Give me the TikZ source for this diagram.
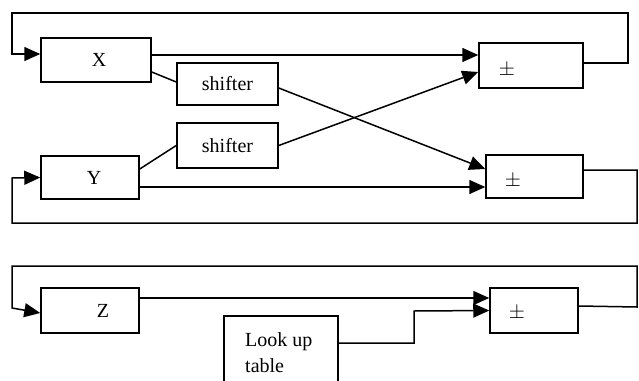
\documentclass[tikz,border=0pt]{standalone}
\usepackage{fontspec}
\setmainfont{Liberation Serif}
\usetikzlibrary{arrows.meta}
\begin{document}
\begin{tikzpicture}[x=1pt,y=-1pt,
  every node/.style={font=\fontsize{20}{26}\selectfont},
  blk/.style={draw, line width=1.5pt, inner sep=0pt},
  wire/.style={line width=1.5pt},
  arr/.style={wire, -{Triangle[length=16pt,width=14pt]}},
  txt/.style={inner sep=0pt}]
\clip (0,0) rectangle (639,380);
% blocks
\node[blk, minimum width=110pt, minimum height=44pt] (X) at (96,60) {};
\node[blk, minimum width=101pt, minimum height=42pt] (S1) at (227.5,84) {};
\node[blk, minimum width=101pt, minimum height=45pt] (S2) at (227.5,145.5) {};
\node[blk, minimum width=98pt, minimum height=43pt] (Y) at (90,177.5) {};
\node[blk, minimum width=104pt, minimum height=45pt] (P1) at (531,65.5) {};
\node[blk, minimum width=97pt, minimum height=43pt] (P2) at (534.5,176.5) {};
\node[blk, minimum width=98pt, minimum height=45pt] (Z) at (90,310.5) {};
\node[blk, minimum width=88pt, minimum height=45pt] (P3) at (534,310.5) {};
\node[blk, minimum width=114pt, minimum height=90pt] (LUT) at (281,361) {};
% labels
\node[txt] (tX) at (99,60) {X};
\node[txt] (tY) at (94,178) {Y};
\node[txt] (tZ) at (103,311) {Z};
\node[txt] (tS1) at (S1.center) {shifter};
\node[txt] (tS2) at (S2.center) {shifter};
\node[txt] (tP1) at (507,70) {$\pm$};
\node[txt] (tP2) at (513,181) {$\pm$};
\node[txt] (tP3) at (517,313) {$\pm$};
\node[txt, anchor=base west] (tL1) at (245,346) {Look up};
\node[txt, anchor=base west] (tL2) at (245,372) {table};
% anchor points for the connectors
\coordinate (xo) at ([yshift=5pt]X.east);
\coordinate (xs) at ([yshift=-12pt]X.east);
\coordinate (s1i) at ([yshift=2pt]S1.west);
\coordinate (s1o) at ([yshift=-4pt]S1.east);
\coordinate (p2a) at ([yshift=7.5pt]P2.west);
\coordinate (ys) at ([yshift=8.5pt]Y.east);
\coordinate (yo) at ([yshift=-9.5pt]Y.east);
\coordinate (p1b) at ([yshift=-6.5pt]P1.west);
\coordinate (p1o) at ([yshift=2.5pt]P1.east);
\coordinate (p2o) at ([yshift=6.5pt]P2.east);
\coordinate (p3o) at ([yshift=4.5pt]P3.east);
\coordinate (zo) at ([yshift=12.5pt]Z.east);
\coordinate (xi) at ([yshift=6pt]X.west);
\coordinate (zi) at ([yshift=-2.5pt]Z.west);
\coordinate (lo) at ([yshift=18pt]LUT.east);
% X path
\draw[arr] (xo) -- (xo -| P1.west);
\draw[wire] (xs) -- (s1i);
\draw[arr] (s1o) -- (p2a);
% Y path
\draw[wire] (ys) -- (S2.west);
\draw[arr] (S2.east) -- (p1b);
\draw[arr] (yo) -- (yo -| P2.west);
% feedback loops
\draw[arr] (p1o) -- (628,63) -- (628,13) -- (12,13) -- (12,54) -- (xi);
\draw[arr] (p2o) -- (637,170) -- (637,223) -- (12,223) -- (12,178) -- (Y.west);
\draw[arr] (p3o) -- (637,307) -- (637,266) -- (12,266) -- (12,308) -- (zi);
% Z path
\draw[arr] (zo) -- (zo -| P3.west);
\draw[arr] (lo) -- (414,343) -- (414,311) -- (P3.west);
\end{tikzpicture}
\end{document}
